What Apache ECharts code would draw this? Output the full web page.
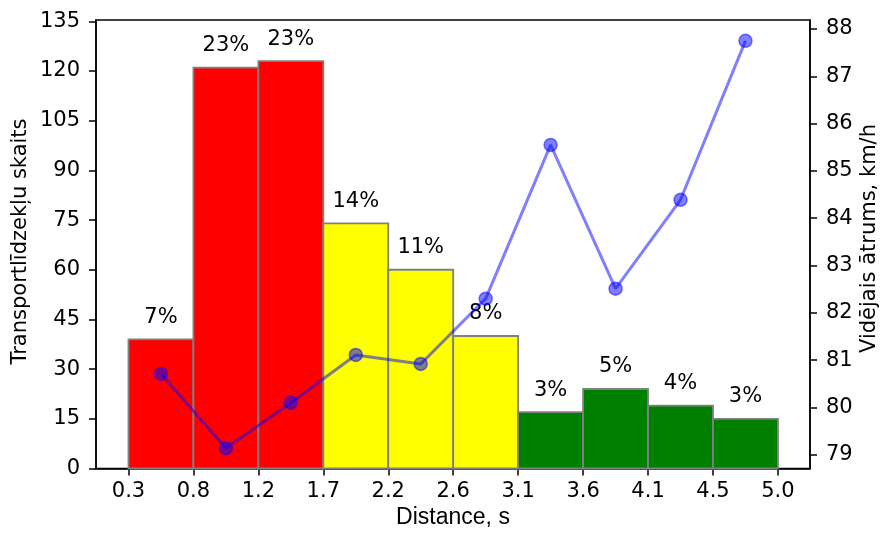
<!DOCTYPE html>
<html>
<head>
<meta charset="utf-8">
<script src="https://cdn.jsdelivr.net/npm/echarts@6/dist/echarts.min.js"></script>
<style>
  html, body { margin: 0; padding: 0; background: #fff; }
  #chart { width: 882px; height: 533px; }
</style>
</head>
<body>
<div id="chart"></div>
<script>
// Histogram bin edges (distance, s) and their printed tick labels
const binEdges = [0.30, 0.77, 1.24, 1.71, 2.18, 2.65, 3.12, 3.59, 4.06, 4.53, 5.00];
const edgeLabels = ['0.3', '0.8', '1.2', '1.7', '2.2', '2.6', '3.1', '3.6', '4.1', '4.5', '5.0'];

// Vehicle count per bin
const vehicleCounts = [39, 121, 123, 74, 60, 40, 17, 24, 19, 15];

// Mean speed per bin, km/h
const meanSpeed = [80.71, 79.14, 80.10, 81.11, 80.92, 82.30, 85.55, 82.51, 84.39, 87.75];

// Distance class of each bin: 0 = short, 1 = medium, 2 = long
const binClass = [0, 0, 0, 1, 1, 1, 2, 2, 2, 2];

// Axis tick values
const countTicks = [0, 15, 30, 45, 60, 75, 90, 105, 120, 135];
const speedTicks = [79, 80, 81, 82, 83, 84, 85, 86, 87, 88];

const classColors = ['#ff0000', '#ffff00', '#008000'];
const total = vehicleCounts.reduce((a, b) => a + b, 0);

const barData = vehicleCounts.map((c, i) => [binEdges[i], binEdges[i + 1], c, binClass[i]]);
const lineData = meanSpeed.map((v, i) => [(binEdges[i] + binEdges[i + 1]) / 2, v]);

const FS = 21;
const tickFont = { fontFamily: 'DejaVu Sans', fontSize: FS, color: '#000' };
const axisLine = { show: true, lineStyle: { color: '#000', width: 1.5 } };
const axisTick = { show: true, length: 7, lineStyle: { color: '#000', width: 1.5 } };

const chart = echarts.init(document.getElementById('chart'), null, { renderer: 'canvas' });

chart.setOption({
  animation: false,
  backgroundColor: '#fff',
  grid: {
    left: 96, right: 72, top: 20, bottom: 64.5,
    show: true, borderColor: '#000', borderWidth: 1.5, backgroundColor: 'transparent'
  },
  xAxis: {
    type: 'value',
    min: 0.065, max: 5.232,
    axisLine: axisLine,
    axisTick: Object.assign({ customValues: binEdges }, axisTick),
    axisLabel: Object.assign({
      customValues: binEdges,
      margin: 13,
      formatter: (v) => {
        const k = binEdges.findIndex(e => Math.abs(e - v) < 1e-6);
        return k >= 0 ? edgeLabels[k] : '';
      }
    }, tickFont),
    splitLine: { show: false }
  },
  yAxis: [
    {
      type: 'value',
      min: 0, max: 135.4,
      position: 'left',
      axisLine: axisLine,
      axisTick: Object.assign({ customValues: countTicks }, axisTick),
      axisLabel: Object.assign({ customValues: countTicks, margin: 16 }, tickFont),
      splitLine: { show: false }
    },
    {
      type: 'value',
      min: 78.71, max: 88.19,
      position: 'right',
      axisLine: axisLine,
      axisTick: Object.assign({ customValues: speedTicks }, axisTick),
      axisLabel: Object.assign({ customValues: speedTicks, margin: 16 }, tickFont),
      splitLine: { show: false }
    }
  ],
  graphic: [
    {
      type: 'text', x: 453, y: 518,
      style: { text: 'Distance, s', fontFamily: 'Liberation Sans', fontSize: 23, fill: '#000',
               align: 'center', verticalAlign: 'middle' }
    },
    {
      type: 'text', x: 21, y: 241.5, rotation: Math.PI / 2,
      style: { text: 'Transportlīdzekļu skaits', fontFamily: 'DejaVu Sans', fontSize: FS, fill: '#000',
               align: 'center', verticalAlign: 'middle' }
    },
    {
      type: 'text', x: 870, y: 238.5, rotation: Math.PI / 2,
      style: { text: 'Vidējais ātrums, km/h', fontFamily: 'DejaVu Sans', fontSize: FS, fill: '#000',
               align: 'center', verticalAlign: 'middle' }
    }
  ],
  series: [
    {
      type: 'custom',
      xAxisIndex: 0, yAxisIndex: 0,
      z: 1,
      data: barData,
      renderItem: (params, api) => {
        const x0 = api.value(0), x1 = api.value(1), h = api.value(2), cls = api.value(3);
        const p0 = api.coord([x0, 0]);
        const p1 = api.coord([x1, h]);
        const pct = Math.round(h / total * 100) + '%';
        return {
          type: 'group',
          children: [
            {
              type: 'rect',
              shape: { x: p0[0], y: p1[1], width: p1[0] - p0[0], height: p0[1] - p1[1] },
              style: { fill: classColors[cls], stroke: '#808080', lineWidth: 1.8 }
            },
            {
              type: 'text',
              x: (p0[0] + p1[0]) / 2, y: p1[1] - 22,
              style: { text: pct, fontFamily: 'DejaVu Sans', fontSize: FS, fill: '#000',
                       align: 'center', verticalAlign: 'middle' },
              z2: 10
            }
          ]
        };
      }
    },
    {
      type: 'line',
      xAxisIndex: 0, yAxisIndex: 1,
      z: 5,
      data: lineData,
      symbol: 'circle',
      symbolSize: 13,
      lineStyle: { color: 'rgba(0,0,255,0.5)', width: 3 },
      itemStyle: { color: 'rgba(0,0,255,0.5)', borderColor: 'rgba(0,0,255,0.5)', borderWidth: 1.5 }
    }
  ]
});
</script>
</body>
</html>
